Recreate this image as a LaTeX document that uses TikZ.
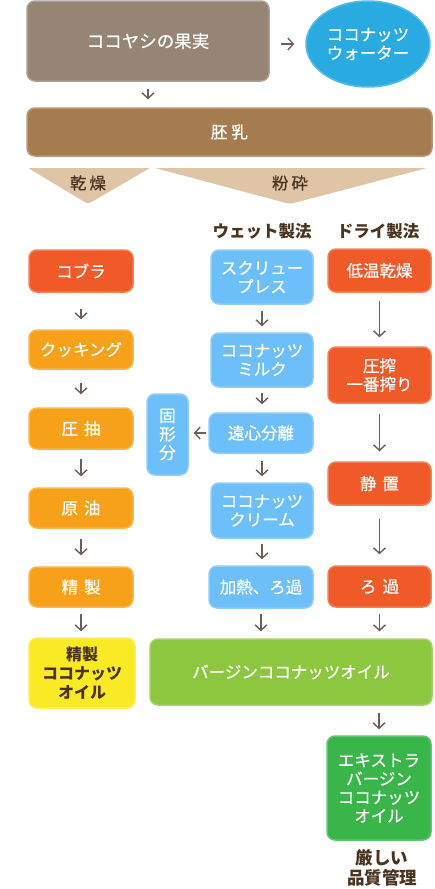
\documentclass[tikz,border=0pt]{standalone}
\usepackage{fontspec}
\newfontfamily\jp{Noto Sans CJK JP}
\newfontfamily\jpm[FakeBold=0.6]{Noto Sans CJK JP}
\usetikzlibrary{arrows.meta,shapes.geometric}
\definecolor{fruitc}{HTML}{968475}
\definecolor{endoc}{HTML}{A57B50}
\definecolor{tanc}{HTML}{DFC5A5}
\definecolor{waterc}{HTML}{29ABE2}
\definecolor{redc}{HTML}{F05A28}
\definecolor{orangec}{HTML}{F7A11A}
\definecolor{bluec}{HTML}{6CBFF8}
\definecolor{yellowc}{HTML}{FAEA25}
\definecolor{lgreenc}{HTML}{8DC63F}
\definecolor{greenc}{HTML}{39B54A}
\definecolor{darkc}{HTML}{4A3420}
\definecolor{arrowc}{HTML}{6D5F57}
\begin{document}
\begin{tikzpicture}[x=1pt,y=-1pt,
  box/.style={rounded corners=8pt, text=white, font=\jpm\fontsize{16.5}{18.5}\selectfont,
    align=center, inner sep=0pt, line width=1.5pt, fill=#1, draw=#1!78!white},
  sz/.style 2 args={minimum width=#1pt, minimum height=#2pt},
  lbl/.style={text=darkc, font=\jp\bfseries\fontsize{16.5}{20}\selectfont, align=center, inner sep=0pt},
  arr/.style={draw=arrowc, line width=1.4pt, -{Straight Barb[length=5.5pt,width=12pt]}},
]
\useasboundingbox (0,0) rectangle (434,889);
\fill[white] (0,0) rectangle (434,889);

% top
\node[box=fruitc, sz={242}{80}, font=\jpm\fontsize{17.5}{20}\selectfont] (fruit) at (148,41) {ココヤシの果実};
\node[ellipse, fill=waterc, draw=waterc!80!white, line width=1.5pt, minimum width=124pt, minimum height=86pt, inner sep=0pt,
  text=white, align=center, font=\jpm\fontsize{16.5}{18.5}\selectfont] (water) at (368,44) {ココナッツ\\ウォーター};
\node[box=endoc, sz={405}{48}] (endo) at (229.5,132) {胚\hspace{4pt}乳};

% triangles
\fill[tanc, rounded corners=2pt] (28,168) -- (150,168) -- (88,204) -- cycle;
\fill[tanc, rounded corners=2pt] (155,168) -- (427,168) -- (290,204) -- cycle;
\node[lbl, font=\jpm\fontsize{16.5}{20}\selectfont] (dry) at (88,183) {乾\hspace{3pt}燥};
\node[lbl, font=\jpm\fontsize{16.5}{20}\selectfont] (grind) at (290,183) {粉\hspace{3pt}砕};

\node[lbl] (wetlbl) at (262,231) {ウェット製法};
\node[lbl] (drylbl) at (378,231) {ドライ製法};

% left column
\node[box=redc, sz={104}{42}] (cobra) at (81,271) {コブラ};
\node[box=orangec, sz={104}{39}] (cook) at (81,349.5) {クッキング};
\node[box=orangec, sz={104}{41}] (extract) at (81,428.5) {圧\hspace{6pt}抽};
\node[box=orangec, sz={104}{40}] (crude) at (81,508) {原\hspace{6pt}油};
\node[box=orangec, sz={104}{40}] (refine) at (81,587) {精\hspace{6pt}製};
\node[box=yellowc, sz={106}{70}, text=darkc, font=\jp\bfseries\fontsize{16}{19}\selectfont] (refoil) at (82,673) {精製\\ココナッツ\\オイル};

% wet column
\node[box=bluec, sz={102}{54}] (screw) at (262,277) {スクリュー\\プレス};
\node[box=bluec, sz={102}{54}] (milk) at (262,360) {ココナッツ\\ミルク};
\node[box=bluec, sz={104}{40}] (centri) at (261,433) {遠心分離};
\node[box=bluec, sz={41}{81}] (solids) at (167.5,434.5) {固\\形\\分};
\node[box=bluec, sz={102}{55}] (cream) at (262,510.5) {ココナッツ\\クリーム};
\node[box=bluec, sz={104}{42}] (heat) at (261,587) {加熱、ろ過};

% dry column
\node[box=redc, sz={103}{43}] (lowtemp) at (379.5,270.5) {低温乾燥};
\node[box=redc, sz={103}{56}] (press) at (379.5,375) {圧搾\\一番搾り};
\node[box=redc, sz={103}{43}] (still) at (379.5,483.5) {静\hspace{6pt}置};
\node[box=redc, sz={103}{41}] (filter) at (379.5,586.5) {ろ\hspace{6pt}過};

% bottom
\node[box=lgreenc, sz={282}{66}] (virgin) at (291,672) {バージンココナッツオイル};
\node[box=greenc, sz={104}{104}] (extra) at (379,788) {エキストラ\\バージン\\ココナッツ\\オイル};
\node[lbl, font=\jp\bfseries\fontsize{17.5}{20}\selectfont] (quality) at (382,868) {厳しい\\品質管理};

% arrows
\draw[arr, shorten <=11pt, shorten >=11pt] (fruit.east |- water.west) -- (water.west);
\draw[arr, shorten <=7pt, shorten >=8pt] (fruit.south) -- (fruit.south |- endo.north);

\draw[arr, shorten <=16pt, shorten >=10pt] (cobra.south) -- (cook.north);
\draw[arr, shorten <=13pt, shorten >=13pt] (cook.south) -- (extract.north);
\draw[arr, shorten <=9pt, shorten >=11pt] (extract.south) -- (crude.north);
\draw[arr, shorten <=10pt, shorten >=11pt] (crude.south) -- (refine.north);
\draw[arr, shorten <=6pt, shorten >=6pt] (refine.south) -- (refine.south |- refoil.north);

\draw[arr, shorten <=6pt, shorten >=6pt] (screw.south) -- (milk.north);
\draw[arr, shorten <=5pt, shorten >=8pt] (milk.south) -- (milk.south |- centri.north);
\draw[arr, shorten <=2pt, shorten >=5pt] (centri.west) -- (solids.east |- centri.west);
\draw[arr, shorten <=7pt, shorten >=6pt] (cream.north |- centri.south) -- (cream.north);
\draw[arr, shorten <=5pt, shorten >=6pt] (cream.south) -- (cream.south |- heat.north);
\draw[arr, shorten <=5pt, shorten >=7pt] (heat.south) -- (heat.south |- virgin.north);

\draw[arr, shorten <=8pt, shorten >=9pt] (lowtemp.south) -- (press.north);
\draw[arr, shorten <=10pt, shorten >=10pt] (press.south) -- (still.north);
\draw[arr, shorten <=13pt, shorten >=11pt] (still.south) -- (filter.north);
\draw[arr, shorten <=6pt, shorten >=7pt] (filter.south) -- (filter.south |- virgin.north);
\draw[arr, shorten <=7pt, shorten >=6pt] (extra.north |- virgin.south) -- (extra.north);
\end{tikzpicture}
\end{document}
